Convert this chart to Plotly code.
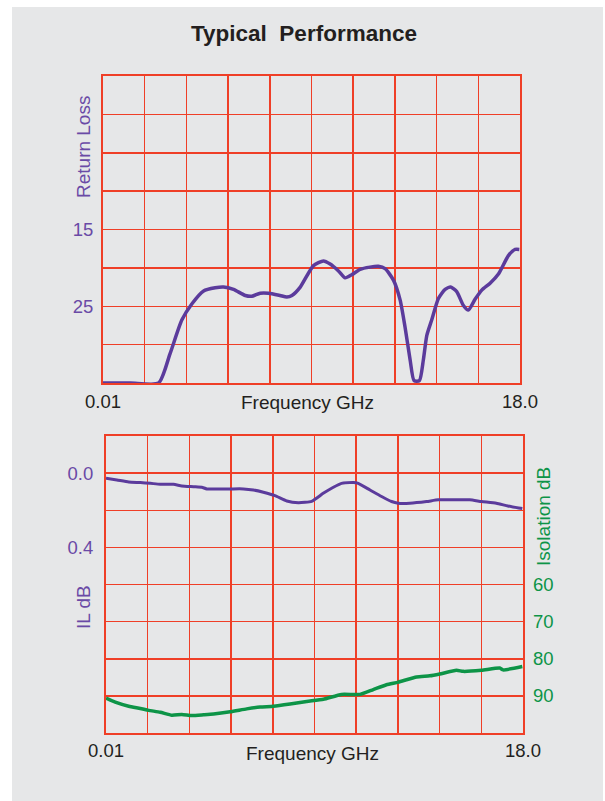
import plotly.graph_objects as go

# ---------------- data ----------------
rl_freq = [0.01, 1.20, 2.41, 2.90, 3.41, 3.84, 4.35, 4.85, 5.21, 5.64, 6.15, 6.43, 6.79, 7.15, 7.65,
           7.94, 8.16, 8.52, 9.09, 9.52, 9.81, 10.17, 10.46, 10.74, 11.10, 11.53, 11.89, 12.18,
           12.54, 12.83, 13.04, 13.26, 13.43, 13.66, 13.83, 13.98, 14.19, 14.48, 14.77, 15.01,
           15.27, 15.56, 15.77, 16.06, 16.35, 16.71, 17.07, 17.50, 17.79, 17.97]
rl_db = [35.0, 35.0, 35.0, 31.2, 26.8, 24.7, 23.0, 22.6, 22.5, 22.8, 23.6, 23.7, 23.3, 23.3, 23.6,
         23.8, 23.6, 22.5, 19.7, 19.1, 19.5, 20.4, 21.3, 20.9, 20.2, 19.9, 19.8, 20.1,
         21.6, 24.2, 27.7, 32.0, 34.7, 34.7, 32.0, 28.8, 26.8, 24.0, 22.8, 22.5,
         23.1, 24.9, 25.5, 24.1, 22.9, 22.0, 20.8, 18.4, 17.6, 17.6]

il_freq = [0.01, 0.48, 0.99, 1.49, 1.92, 2.35, 2.92, 3.28, 3.79, 4.14, 4.36, 4.93, 5.37, 5.94,
           6.37, 6.80, 7.30, 7.81, 8.31, 8.88, 9.38, 9.82, 10.17, 10.68, 10.89, 11.40, 11.90,
           12.33, 12.62, 13.12, 13.84, 14.34, 14.99, 15.70, 16.21, 16.85, 17.35, 17.97]
il_db = [0.028, 0.037, 0.048, 0.051, 0.055, 0.060, 0.060, 0.069, 0.073, 0.076, 0.085, 0.085,
         0.085, 0.085, 0.091, 0.103, 0.121, 0.150, 0.159, 0.152, 0.109, 0.076, 0.055, 0.051,
         0.055, 0.091, 0.126, 0.153, 0.162, 0.162, 0.153, 0.144, 0.144, 0.144, 0.153, 0.162,
         0.177, 0.191]

iso_freq = [0.01, 0.41, 0.99, 1.49, 1.85, 2.35, 2.85, 3.28, 3.71, 4.22, 4.65, 5.37, 6.08, 6.66,
            7.23, 7.95, 8.67, 9.39, 10.17, 10.97, 11.54, 12.11, 12.62, 13.41, 13.98, 14.41,
            15.13, 15.42, 16.21, 17.00, 17.14, 17.97]
iso_db = [90.6, 91.7, 92.8, 93.4, 93.9, 94.4, 95.2, 95.0, 95.3, 95.1, 94.9, 94.3, 93.5, 93.0,
          92.8, 92.2, 91.5, 90.9, 89.6, 89.6, 88.3, 87.0, 86.3, 84.9, 84.6, 84.1,
          83.1, 83.4, 83.1, 82.5, 83.0, 82.1]

x_grid = [0.01 + k * 1.799 for k in range(11)]
x_text = ["0.01"] + [""] * 9 + ["18.0"]
rl_grid = [-5, 0, 5, 10, 15, 20, 25, 30, 35]
rl_text = ["", "", "", "", "15", "", "25", "", ""]
il_grid = [-0.2, 0.0, 0.2, 0.4, 0.6, 0.8, 1.0, 1.2, 1.4]
il_text = ["", "0.0", "", "0.4", "", "", "", "", ""]
iso_ticks = [60, 70, 80, 90]

# ---------------- style ----------------
W, H = 605, 801
GRID = "#ef3f27"
PURPLE = "#5b3b9c"
LBL_PURPLE = "#6a4aa6"
GREEN = "#0d9447"
BG = "#e6e7e8"
DARK = "#231f20"
FONT = "Liberation Sans, Arial, sans-serif"


def px_x(v):
    return v / W


def px_y(v):
    return 1 - v / H


fig = go.Figure()
fig.add_trace(go.Scatter(x=rl_freq, y=rl_db, mode="lines", line=dict(color=PURPLE, width=3.5, shape="spline", smoothing=0.6),
                         xaxis="x", yaxis="y", showlegend=False, hoverinfo="skip"))
fig.add_trace(go.Scatter(x=il_freq, y=il_db, mode="lines", line=dict(color=PURPLE, width=3, shape="spline", smoothing=0.5),
                         xaxis="x2", yaxis="y2", showlegend=False, hoverinfo="skip"))
fig.add_trace(go.Scatter(x=iso_freq, y=iso_db, mode="lines", line=dict(color=GREEN, width=3.5, shape="spline", smoothing=0.5),
                         xaxis="x2", yaxis="y3", showlegend=False, hoverinfo="skip"))

axis_common = dict(showgrid=True, gridcolor=GRID, gridwidth=1.5, showline=True, linecolor=GRID,
                   linewidth=2, mirror=True, zeroline=False, ticks="", fixedrange=True, automargin=False,
                   layer="below traces", tickfont=dict(family=FONT, size=18.5, color=DARK))


def label(text, x, y, size, color, angle=0):
    return dict(text=text, xref="paper", yref="paper", x=px_x(x), y=px_y(y), textangle=angle,
                xanchor="center", yanchor="middle", showarrow=False,
                font=dict(family=FONT, size=size, color=color))


fig.update_layout(
    width=W, height=H,
    margin=dict(l=0, r=0, t=0, b=0, pad=0, autoexpand=False),
    paper_bgcolor="white",
    plot_bgcolor="rgba(0,0,0,0)",
    font=dict(family=FONT),
    xaxis=dict(axis_common, domain=[px_x(103), px_x(520)], anchor="y", range=[0.01, 18.0],
               tickmode="array", tickvals=x_grid, ticktext=x_text, ticklabelstandoff=1),
    yaxis=dict(axis_common, domain=[px_y(383), px_y(76)], anchor="x", range=[35, -5],
               tickmode="array", tickvals=rl_grid, ticktext=rl_text,
               tickfont=dict(family=FONT, size=18.5, color=LBL_PURPLE), ticklabelstandoff=4),
    xaxis2=dict(axis_common, domain=[px_x(106), px_x(523)], anchor="y2", range=[0.01, 18.0],
                tickmode="array", tickvals=x_grid, ticktext=x_text, ticklabelstandoff=0),
    yaxis2=dict(axis_common, domain=[px_y(733), px_y(436)], anchor="x2", range=[1.4, -0.2],
                tickmode="array", tickvals=il_grid, ticktext=il_text,
                tickfont=dict(family=FONT, size=18.5, color=LBL_PURPLE), ticklabelstandoff=7),
    yaxis3=dict(overlaying="y2", side="right", anchor="x2", range=[100, 20], showgrid=False,
                zeroline=False, showline=False, ticks="", tickmode="array", tickvals=iso_ticks,
                tickfont=dict(family=FONT, size=18.5, color=GREEN), ticklabelstandoff=9,
                fixedrange=True, automargin=False),
    shapes=[dict(type="rect", xref="paper", yref="paper", x0=px_x(12), x1=px_x(603), y0=0, y1=px_y(7),
                 fillcolor=BG, line=dict(width=0), layer="below")],
    annotations=[
        label("<b>Typical  Performance</b>", 304, 34, 22.5, DARK),
        label("Frequency GHz", 308, 402, 19, DARK),
        label("Frequency GHz", 312, 753, 19, DARK),
        label("Return Loss", 83, 147, 19, LBL_PURPLE, -90),
        label("IL dB", 83, 607, 19, LBL_PURPLE, -90),
        label("Isolation dB", 543, 517, 19, GREEN, -90),
    ],
)

fig.write_html("out.html", config={"displayModeBar": False, "staticPlot": True},
               post_script="document.body.style.margin='0';document.body.style.overflow='hidden';")
